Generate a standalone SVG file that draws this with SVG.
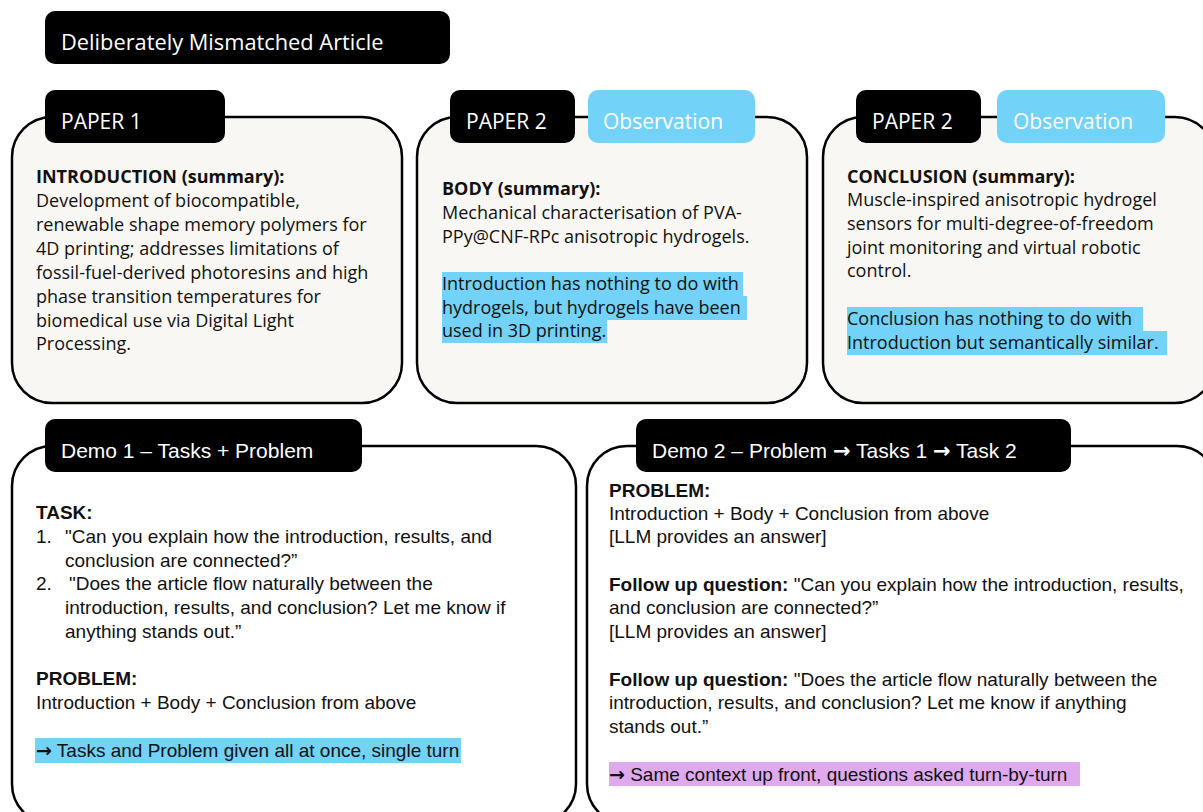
<svg xmlns="http://www.w3.org/2000/svg" width="1203" height="812" viewBox="0 0 1203 812">
<style>
.box{fill:#f8f7f3;stroke:#000;stroke-width:2.5}
.dbox{fill:#fff;stroke:#000;stroke-width:2.5}
.tab{fill:#000}
.obs{fill:#72d2f7}
.hl{fill:#72d2f7}
.hlp{fill:#dfa9ee}
.tt{font-family:"Open Sans","Liberation Sans",sans-serif;font-size:21px;fill:#fff}
.dt{font-family:"Liberation Sans",Arial,sans-serif;font-size:21px;fill:#fff}
.p{font-family:"Open Sans","Liberation Sans",sans-serif;font-size:18px;fill:#111}
.b{font-weight:bold}
.d{font-family:"Liberation Sans",Arial,sans-serif;font-size:19px;fill:#111}
.ar{font-family:"DejaVu Sans",sans-serif;font-weight:bold}
</style>
<rect width="1203" height="812" fill="#fff"/>

<g id="title">
<rect class="tab" x="45" y="11" width="405" height="53" rx="10"/>
<text class="tt" x="61" y="50" style="font-size:21.8px">Deliberately Mismatched Article</text>
</g>

<g id="paper1">
<rect class="box" x="12" y="117" width="390" height="286" rx="40"/>
<rect class="tab" x="45" y="90" width="180" height="53" rx="10"/>
<text class="tt" x="61" y="129">PAPER 1</text>
<text class="p b" x="36" y="183">INTRODUCTION (summary):</text>
<text class="p" x="36" y="207">Development of biocompatible,</text>
<text class="p" x="36" y="231">renewable shape memory polymers for</text>
<text class="p" x="36" y="255">4D printing; addresses limitations of</text>
<text class="p" x="36" y="279">fossil-fuel-derived photoresins and high</text>
<text class="p" x="36" y="303">phase transition temperatures for</text>
<text class="p" x="36" y="327">biomedical use via Digital Light</text>
<text class="p" x="36" y="350">Processing.</text>
</g>

<g id="paper2-body">
<rect class="box" x="417" y="117" width="390" height="286" rx="40"/>
<rect class="tab" x="450" y="90" width="125" height="53" rx="10"/>
<text class="tt" x="466" y="129">PAPER 2</text>
<rect class="obs" x="588" y="90" width="167" height="53" rx="10"/>
<text class="tt" x="603" y="129">Observation</text>
<text class="p b" x="442" y="195">BODY (summary):</text>
<text class="p" x="442" y="219">Mechanical characterisation of PVA-</text>
<text class="p" x="442" y="243">PPy@CNF-RPc anisotropic hydrogels.</text>
<rect class="hl" x="442" y="272" width="301" height="24"/>
<rect class="hl" x="442" y="296" width="305" height="24"/>
<rect class="hl" x="442" y="320" width="165" height="23"/>
<text class="p" x="442" y="290">Introduction has nothing to do with</text>
<text class="p" x="442" y="314">hydrogels, but hydrogels have been</text>
<text class="p" x="442" y="337">used in 3D printing.</text>
</g>

<g id="paper2-conclusion">
<rect class="box" x="823" y="117" width="392" height="286" rx="40"/>
<rect class="tab" x="856" y="90" width="125" height="53" rx="10"/>
<text class="tt" x="872" y="129">PAPER 2</text>
<rect class="obs" x="997" y="90" width="168" height="53" rx="10"/>
<text class="tt" x="1013" y="129">Observation</text>
<text class="p b" x="847" y="183">CONCLUSION (summary):</text>
<text class="p" x="847" y="206">Muscle-inspired anisotropic hydrogel</text>
<text class="p" x="847" y="230">sensors for multi-degree-of-freedom</text>
<text class="p" x="847" y="254">joint monitoring and virtual robotic</text>
<text class="p" x="847" y="277">control.</text>
<rect class="hl" x="847" y="307" width="296" height="24"/>
<rect class="hl" x="847" y="331" width="320" height="24"/>
<text class="p" x="847" y="325">Conclusion has nothing to do with</text>
<text class="p" x="847" y="349">Introduction but semantically similar.</text>
</g>

<g id="demo1">
<rect class="dbox" x="12" y="446" width="564" height="378" rx="40"/>
<rect class="tab" x="45" y="419" width="317" height="53" rx="10"/>
<text class="dt" x="61" y="458">Demo 1 – Tasks + Problem</text>
<text class="d b" x="36" y="519">TASK:</text>
<text class="d" x="36" y="543">1.</text>
<text class="d" x="65" y="543">"Can you explain how the introduction, results, and</text>
<text class="d" x="65" y="567">conclusion are connected?”</text>
<text class="d" x="36" y="590">2.</text>
<text class="d" x="69" y="590">"Does the article flow naturally between the</text>
<text class="d" x="65" y="614">introduction, results, and conclusion? Let me know if</text>
<text class="d" x="65" y="638">anything stands out.”</text>
<text class="d b" x="36" y="685">PROBLEM:</text>
<text class="d" x="36" y="709">Introduction + Body + Conclusion from above</text>
<rect class="hl" x="35" y="738" width="426" height="25"/>
<text class="d" x="36" y="757"><tspan class="ar">→</tspan> Tasks and Problem given all at once, single turn</text>
</g>

<g id="demo2">
<rect class="dbox" x="587" y="446" width="630" height="378" rx="40"/>
<rect class="tab" x="636" y="419" width="435" height="53" rx="10"/>
<text class="dt" x="652" y="458">Demo 2 – Problem <tspan class="ar">→</tspan> Tasks 1 <tspan class="ar">→</tspan> Task 2</text>
<text class="d b" x="609" y="497">PROBLEM:</text>
<text class="d" x="609" y="520">Introduction + Body + Conclusion from above</text>
<text class="d" x="609" y="543">[LLM provides an answer]</text>
<text class="d" x="609" y="591"><tspan class="b">Follow up question:</tspan> "Can you explain how the introduction, results,</text>
<text class="d" x="609" y="614">and conclusion are connected?”</text>
<text class="d" x="609" y="638">[LLM provides an answer]</text>
<text class="d" x="609" y="686"><tspan class="b">Follow up question:</tspan> "Does the article flow naturally between the</text>
<text class="d" x="609" y="709">introduction, results, and conclusion? Let me know if anything</text>
<text class="d" x="609" y="733">stands out.”</text>
<rect class="hlp" x="609" y="762" width="471" height="24"/>
<text class="d" x="609" y="781"><tspan class="ar">→</tspan> Same context up front, questions asked turn-by-turn</text>
</g>

<g id="connectors"></g>
</svg>
